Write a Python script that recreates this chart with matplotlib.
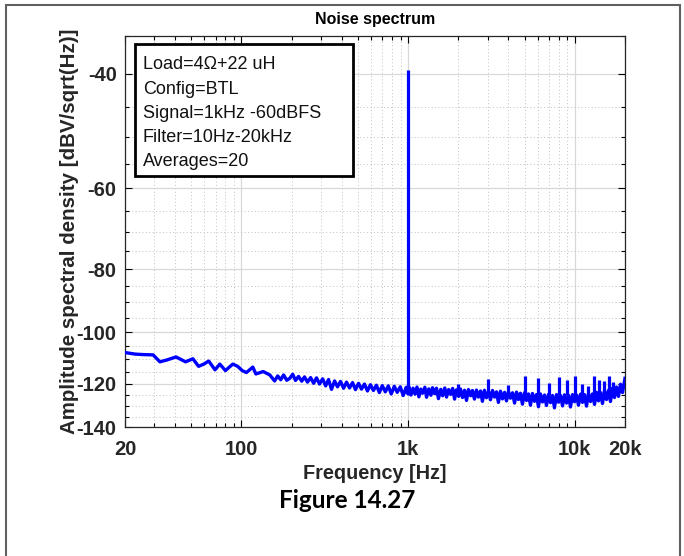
import numpy as np
import matplotlib
matplotlib.use("Agg")
import matplotlib.pyplot as plt
from matplotlib.patches import Rectangle
from matplotlib.ticker import FixedLocator, LogLocator, NullFormatter

plt.rcParams['font.family'] = ['Liberation Sans', 'DejaVu Sans']

# smooth low-frequency part of the spectrum (Hz, dBV/sqrt(Hz))
low_f = [20, 23, 26, 29.5, 32.4, 35.6, 40.5, 46.2, 51.1, 55.3, 59.4, 63.6, 69.4,
         74.1, 80.1, 88.7, 94.9, 101, 107, 117, 122, 135, 148]
low_db = [-107.5, -108.1, -108.3, -108.4, -111.1, -110.4, -109.2, -111.1, -109.9,
          -112.9, -112.0, -110.8, -114.3, -112.0, -114.6, -112.0, -112.9, -114.6,
          -115.4, -113.2, -116.0, -115.0, -116.4]

# noisy part below 1 kHz, read as a zig-zag between the edges of the trace
mid_f = [158, 165, 172, 179, 187, 195, 203, 211, 220, 230, 239, 249, 260, 271,
         282, 294, 307, 320, 333, 347, 362, 377, 393, 410, 427, 445, 464, 483,
         504, 525, 547, 570, 594, 619, 645, 672, 700, 730, 760, 792, 826, 860,
         897, 934, 974, 990]
mid_db = [-118.9, -116.8, -118.4, -116.4, -118.6, -117.8, -116.1, -118.7, -117.0,
          -119.0, -117.2, -119.4, -117.5, -119.9, -117.6, -120.2, -118.0, -121.0,
          -118.3, -122.5, -118.9, -121.4, -119.1, -122.0, -119.4, -121.9, -119.6,
          -122.6, -119.9, -122.4, -120.2, -123.2, -120.5, -123.0, -120.7, -123.9,
          -120.9, -123.6, -121.0, -124.5, -121.2, -123.8, -121.4, -125.2, -121.6,
          -124.2]

# noisy part above 1 kHz
high_f = [1010, 1040, 1070, 1100, 1130, 1160, 1190, 1220, 1260, 1290, 1330, 1370,
          1400, 1440, 1480, 1520, 1570, 1610, 1660, 1700, 1750, 1800, 1850, 1900,
          1950, 2010, 2060, 2120, 2180, 2240, 2300, 2370, 2430, 2500, 2570, 2640,
          2720, 2790, 2870, 2950, 3040, 3120, 3210, 3300, 3390, 3480, 3580, 3680,
          3790, 3890, 4000, 4110, 4230, 4350, 4470, 4590, 4720, 4850, 4990, 5130,
          5270, 5420, 5570, 5730, 5890, 6050, 6220, 6400, 6580, 6760, 6950, 7150,
          7350, 7550, 7770, 7980, 8210, 8440, 8670, 8920, 9170, 9420, 9690, 9960,
          10240, 10520, 10820, 11120, 11430, 11750, 12080, 12420, 12770, 13130,
          13490, 13870, 14260, 14660, 15070, 15490, 15930, 16370, 16830, 17300,
          17790, 18290, 18800, 19330, 19870, 20000]
high_db = [-121.3, -125.0, -122.0, -124.6, -121.5, -125.8, -122.4, -124.2, -121.6,
           -126.0, -122.3, -125.1, -121.8, -124.4, -122.0, -126.6, -122.5, -125.3,
           -121.9, -125.9, -122.6, -124.7, -122.1, -126.8, -122.7, -125.6, -122.3,
           -126.1, -122.9, -127.4, -122.6, -125.3, -123.0, -126.8, -122.8, -125.9,
           -123.2, -127.8, -122.9, -126.2, -123.4, -127.1, -123.0, -125.9, -123.6,
           -128.3, -123.3, -126.7, -123.8, -127.6, -123.5, -126.4, -124.0, -128.6,
           -123.7, -127.0, -124.2, -129.1, -124.0, -127.4, -124.5, -129.6, -124.3,
           -127.8, -124.8, -130.3, -124.5, -128.1, -125.0, -129.7, -124.7, -128.4,
           -125.2, -130.8, -124.8, -128.2, -125.2, -129.9, -124.9, -128.6, -125.1,
           -130.4, -124.8, -128.0, -125.0, -129.6, -124.6, -128.3, -124.8, -130.0,
           -124.4, -127.9, -124.5, -129.2, -123.8, -127.6, -123.9, -128.8, -123.1,
           -127.0, -122.9, -127.9, -122.0, -126.1, -121.5, -125.6, -120.3, -123.9,
           -118.8, -117.8]

# signal and its harmonics
harm_f = [1000, 2000, 3000, 4000, 5000, 6000, 7000, 8000, 9000, 10000, 11000,
          12000, 13000, 14000, 15000, 16000, 17000]
harm_db = [-39.5, -120.3, -118.0, -120.6, -116.8, -117.6, -119.8, -117.2, -118.3,
           -116.8, -120.3, -121.2, -116.8, -118.3, -118.9, -116.8, -119.3]

info = "Load=4\u03a9+22 uH\nConfig=BTL\nSignal=1kHz -60dBFS\nFilter=10Hz-20kHz\nAverages=20"


def fwd(y):
    return -np.log(np.clip(-np.asarray(y, dtype=float), 1e-3, None))


def inv(v):
    return -np.exp(-np.asarray(v, dtype=float))


fig = plt.figure(figsize=(6.84, 5.56), dpi=100)
ax = fig.add_axes([0.1827, 0.232, 0.731, 0.703])

freq = np.concatenate([low_f, mid_f, high_f])
db = np.concatenate([low_db, mid_db, high_db])
ax.plot(freq, db, color='#0000ff', lw=2.4, solid_joinstyle='round', zorder=3)
ax.vlines(harm_f, -125, harm_db, color='#0000ff', lw=2.3, zorder=3)

ax.set_xscale('log')
ax.set_yscale('function', functions=(fwd, inv))
ax.set_xlim(20, 20000)
ax.set_ylim(-140, -35)

ax.xaxis.set_major_locator(FixedLocator([20, 100, 1000, 10000, 20000]))
ax.set_xticklabels(['20', '100', '1k', '10k', '20k'])
ax.xaxis.set_minor_locator(LogLocator(base=10, subs=np.arange(2, 10)))
ax.xaxis.set_minor_formatter(NullFormatter())
ax.yaxis.set_major_locator(FixedLocator([-140, -120, -100, -80, -60, -40]))
ax.set_yticklabels(['-140', '-120', '-100', '-80', '-60', '-40'])
ax.yaxis.set_minor_locator(FixedLocator(np.arange(-140, -34, 5)))
ax.yaxis.set_minor_formatter(NullFormatter())

ax.grid(True, which='major', color='#d8d8d8', lw=0.9, ls='-', zorder=0)
ax.grid(True, which='minor', color='#c0c0c0', lw=0.7, ls=(0, (1, 2.5)), zorder=0)
ax.tick_params(which='both', direction='in', top=True, right=True,
               labelsize=14.5, labelcolor='#262626', width=0.8)
ax.tick_params(axis='x', which='major', length=5, pad=9)
ax.tick_params(axis='y', which='major', length=5, pad=6)
ax.tick_params(which='minor', length=3)
for lbl in ax.get_xticklabels() + ax.get_yticklabels():
    lbl.set_fontweight('bold')
for s in ax.spines.values():
    s.set_linewidth(0.9)
    s.set_color('#262626')

ax.set_title('Noise spectrum', fontsize=11.5, fontweight='bold', pad=8.5)
ax.set_xlabel('Frequency [Hz]', fontsize=14.3, fontweight='bold', color='#262626', labelpad=4)
ax.set_ylabel('Amplitude spectral density [dBV/sqrt(Hz)]', fontsize=14.8,
              fontweight='bold', color='#262626', labelpad=-2)

# info box
ax.add_patch(Rectangle((0.02, 0.642), 0.437, 0.338, transform=ax.transAxes,
                       facecolor='white', edgecolor='black', lw=2, zorder=5))
ax.text(0.036, 0.948, info, transform=ax.transAxes, ha='left', va='top',
        fontsize=13, linespacing=1.55, color='#111111', zorder=6)

fig.text(0.507, 1 - 501 / 556, 'Figure 14.27', ha='center', va='center',
         fontsize=17.5, fontweight='bold', family=['Lato', 'Liberation Sans'])
fig.add_artist(Rectangle((6 / 684, -0.02), 674 / 684, 1.011,
                         transform=fig.transFigure, fill=False,
                         edgecolor='#606060', lw=1.5))

fig.savefig('out.png', dpi=100)
